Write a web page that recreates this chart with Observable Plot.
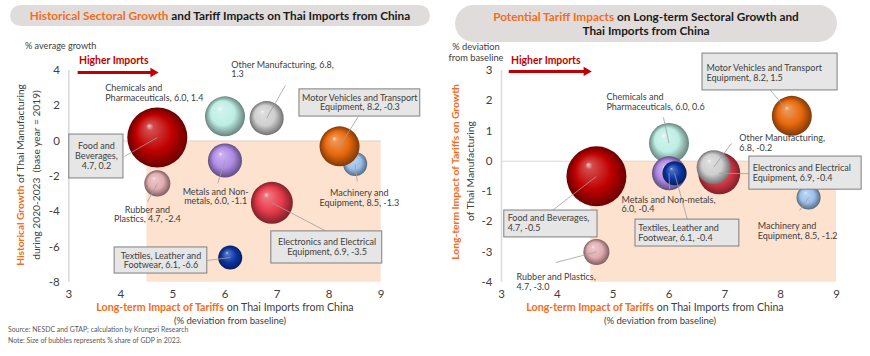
<!DOCTYPE html>
<html><head><meta charset="utf-8">
<script src="https://cdn.jsdelivr.net/npm/d3@7"></script>
<script src="https://cdn.jsdelivr.net/npm/@observablehq/plot@0.6"></script>
<style>
body{margin:0;width:870px;height:356px;position:relative;overflow:hidden;background:#fff;font-family:Lato,"Open Sans",sans-serif;color:#404040}
.abs{position:absolute;white-space:nowrap}
.c{transform:translate(-50%,-50%);text-align:center}
.pill{background:#e0dcdc;display:flex;align-items:center;justify-content:center;text-align:center;font-weight:bold;font-size:11.8px;color:#1a1a1a;line-height:14px}
.or{color:#f26c1b;font-weight:bold}
.hi{color:#c00000;font-weight:bold;font-size:10.4px}
</style></head>
<body>
<svg width="0" height="0" style="position:absolute"><defs id="defs"></defs></svg>
<div id="left" class="abs" style="left:0;top:0"></div>
<div id="right" class="abs" style="left:440px;top:0"></div>

<div class="abs pill" style="left:10px;top:5px;width:420px;height:21px;border-radius:11px"><span><span class="or">Historical Sectoral Growth</span> and Tariff Impacts on Thai Imports from China</span></div>
<div class="abs pill" style="left:455px;top:5px;width:382px;height:37px;border-radius:19px"><span><span class="or">Potential Tariff Impacts</span> on Long-term Sectoral Growth and<br>Thai Imports from China</span></div>

<div class="abs" style="left:25px;top:40px;font-size:9.1px">% average growth</div>
<div class="abs c" style="left:476px;top:52px;font-size:9.3px;line-height:11px">% deviation<br>from baseline</div>

<div class="abs hi" style="left:79px;top:54px">Higher Imports</div>
<div class="abs hi" style="left:511px;top:54px">Higher Imports</div>

<div class="abs c" style="left:20px;top:175px;transform:translate(-50%,-50%) rotate(-90deg);font-size:10.2px"><span class="or">Historical Growth</span> of Thai Manufacturing</div>
<div class="abs c" style="left:36px;top:175px;transform:translate(-50%,-50%) rotate(-90deg);font-size:10.2px">during 2020-2023&nbsp; (base year = 2019)</div>
<div class="abs c" style="left:455px;top:172px;transform:translate(-50%,-50%) rotate(-90deg);font-size:10.3px"><span class="or">Long-term Impact of Tariffs on Growth</span></div>
<div class="abs c" style="left:470px;top:171px;transform:translate(-50%,-50%) rotate(-90deg);font-size:10.3px">of Thai Manufacturing</div>

<div class="abs c" style="left:225px;top:307px;font-size:10.6px"><span class="or">Long-term Impact of Tariffs</span> on Thai Imports from China</div>
<div class="abs c" style="left:230px;top:320px;font-size:9.5px">(% deviation from baseline)</div>
<div class="abs c" style="left:655px;top:307px;font-size:10.6px"><span class="or">Long-term Impact of Tariffs</span> on Thai Imports from China</div>
<div class="abs c" style="left:660px;top:320px;font-size:9.5px">(% deviation from baseline)</div>

<div class="abs" style="left:8px;top:325px;font-size:6.9px;color:#595959">Source: NESDC and GTAP; calculation by Krungsri Research</div>
<div class="abs" style="left:8px;top:336px;font-size:6.9px;color:#595959">Note: Size of bubbles represents % share of GDP in 2023.</div>

<script>
// ---- data ----
const sectors = ["Food and Beverages","Rubber and Plastics","Chemicals and Pharmaceuticals","Metals and Non-metals","Textiles, Leather and Footwear","Electronics and Electrical Equipment","Other Manufacturing","Machinery and Equipment","Motor Vehicles and Transport Equipment"];
const importImpact = [4.7, 4.7, 6.0, 6.0, 6.1, 6.9, 6.8, 8.5, 8.2];
const historicalGrowth = [0.2, -2.4, 1.4, -1.1, -6.6, -3.5, 1.3, -1.3, -0.3];
const longTermGrowth = [-0.5, -3.0, 0.6, -0.4, -0.4, -0.4, -0.2, -1.2, 1.5];
const gdpShare = [9.0, 1.7, 4.0, 2.9, 1.45, 4.4, 2.9, 1.45, 4.0];
const sectorColors = ["#c00000","#e2acb0","#bdeee4","#b08ce6","#0a36a6","#e63a4a","#cfcfcf","#9cc0ea","#e8680c"];
const xTicks = [3,4,5,6,7,8,9];
const leftYTicks = [-8,-6,-4,-2,0,2,4];
const rightYTicks = [-4,-3,-2,-1,0,1,2,3];

const leftLabels = ["Food and\nBeverages,\n4.7, 0.2","Rubber and\nPlastics, 4.7, -2.4","Chemicals and\nPharmaceuticals, 6.0, 1.4","Metals and Non-\nmetals, 6.0, -1.1","Textiles, Leather and\nFootwear, 6.1, -6.6","Electronics and Electrical\nEquipment, 6.9, -3.5","Other Manufacturing, 6.8,\n1.3","Machinery and\nEquipment, 8.5, -1.3","Motor Vehicles and Transport\nEquipment, 8.2, -0.3"];
const rightLabels = ["Food and Beverages,\n4.7, -0.5","Rubber and Plastics,\n4.7, -3.0","Chemicals and\nPharmaceuticals, 6.0, 0.6","Metals and Non-metals,\n6.0, -0.4","Textiles, Leather and\nFootwear, 6.1, -0.4","Electronics and Electrical\nEquipment, 6.9, -0.4","Other Manufacturing,\n6.8, -0.2","Machinery and\nEquipment, 8.5, -1.2","Motor Vehicles and Transport\nEquipment, 8.2, 1.5"];

// ---- annotation placement (data units) ----
const leftAnn = [
  {i:0, lx:3.53, ly:-0.85, anchor:"middle", box:[3.01,4.05,0.37,-2.12], ex:4.07, ey:-0.87},
  {i:1, lx:4.51, ly:-4.16, anchor:"middle", ex:4.51, ey:-3.45},
  {i:2, lx:3.70, ly:2.73, anchor:"start"},
  {i:3, lx:5.82, ly:-3.14, anchor:"middle", ex:5.86, ey:-2.40},
  {i:4, lx:4.77, ly:-6.77, anchor:"middle", box:[3.88,5.66,-6.03,-7.51], ex:5.66, ey:-6.77},
  {i:5, lx:7.96, ly:-6.0, anchor:"middle", box:[6.89,9.02,-5.12,-6.94], ex:7.95, ey:-5.12},
  {i:6, lx:6.12, ly:4.06, anchor:"start", ex:7.16, ey:3.15},
  {i:7, lx:8.58, ly:-3.20, anchor:"middle", ex:8.54, ey:-2.29},
  {i:8, lx:8.59, ly:2.19, anchor:"middle", box:[7.43,9.75,2.93,1.39], ex:8.56, ey:1.39}
];
const rightAnn = [
  {i:0, lx:3.11, ly:-2.04, anchor:"start", box:[3.05,4.72,-1.63,-2.52], ex:3.91, ey:-1.63},
  {i:1, lx:3.27, ly:-3.99, anchor:"start", ex:3.97, ey:-3.35},
  {i:2, lx:4.88, ly:1.97, anchor:"start", ex:5.90, ey:1.45},
  {i:3, lx:5.15, ly:-1.43, anchor:"start", ex:6.01, ey:-0.92},
  {i:4, lx:5.45, ly:-2.38, anchor:"start", box:[5.40,7.26,-1.93,-2.82], ex:6.33, ey:-1.93},
  {i:5, lx:7.50, ly:-0.38, anchor:"start", box:[7.44,9.45,0.155,-0.94], ex:7.44, ey:-0.41},
  {i:6, lx:7.26, ly:0.60, anchor:"start", ex:7.12, ey:0.59},
  {i:7, lx:7.59, ly:-2.31, anchor:"start", ex:8.34, ey:-1.63},
  {i:8, lx:6.67, ly:2.93, anchor:"start", box:[6.60,9.02,3.56,2.34], ex:7.82, ey:2.34}
];

// ---- sphere gradients ----
const defs = d3.select("#defs");
sectorColors.forEach((c, i) => {
  const g = defs.append("radialGradient").attr("id", "g" + i)
    .attr("cx", 0.5).attr("cy", 0.5).attr("r", 0.5).attr("fx", 0.36).attr("fy", 0.3);
  const hl = d3.interpolateRgb(c, "#ffffff")(0.8);
  const mid = d3.interpolateRgb(c, "#ffffff")(0.3);
  const dark = d3.interpolateRgb(c, "#000000")(0.45);
  [[0, hl], [0.12, mid], [0.6, c], [1, dark]].forEach(([o, col]) =>
    g.append("stop").attr("offset", o).attr("stop-color", col));
});

function chart({yvals, labels, ann, yDomain, yTicks, width, height, ml, mr, mt, mb, shade, arrow}) {
  const rows = sectors.map((s, i) => ({s, x: importImpact[i], y: yvals[i], share: gdpShare[i], fill: `url(#g${i})`}));
  const boxes = ann.filter(d => d.box);
  const leads = ann.filter(d => d.ex !== undefined);
  const txt = a => Plot.text(ann.filter(d => d.anchor === a), {
    x: "lx", y: "ly", text: d => labels[d.i], textAnchor: a, lineAnchor: "middle",
    fontSize: 9, fill: "#404040", lineHeight: 1.08
  });
  return Plot.plot({
    width, height, marginLeft: ml, marginRight: mr, marginTop: mt, marginBottom: mb,
    style: {fontFamily: "Lato, sans-serif", fontSize: "11.5px", color: "#404040", overflow: "visible", background: "transparent"},
    x: {domain: [3, 9]},
    y: {domain: yDomain},
    r: {domain: [0, 9], range: [0, 30]},
    color: {type: "identity"},
    marks: [
      Plot.rect([shade], {x1: d => d[0], x2: d => d[1], y1: d => d[2], y2: d => d[3], fill: "#fde2cf"}),
      Plot.ruleY([0], {x1: 3, x2: 9, stroke: "#d9d9d9"}),
      Plot.ruleX([3], {y1: yDomain[0], y2: yDomain[1], stroke: "#d9d9d9", strokeWidth: 1.5}),
      Plot.axisX({ticks: xTicks, tickSize: 0, tickPadding: 8, label: null, tickFormat: d => String(d), fontSize: 11.5}),
      Plot.axisY({ticks: yTicks, tickSize: 0, tickPadding: 9, label: null, tickFormat: d => String(d), fontSize: 11.5}),
      Plot.dot(rows, {x: "x", y: "y", r: "share", fill: "fill", sort: null}),
      Plot.link(leads, {x1: d => importImpact[d.i], y1: d => yvals[d.i], x2: "ex", y2: "ey", stroke: "#a0a0a0", strokeWidth: 0.8}),
      Plot.rect(boxes, {x1: d => d.box[0], x2: d => d.box[1], y1: d => d.box[2], y2: d => d.box[3], fill: "#e6e6e6", stroke: "#7f7f7f", strokeWidth: 1}),
      txt("start"), txt("middle"),
      Plot.link([arrow], {x1: d => d[0], x2: d => d[1], y1: d => d[2], y2: d => d[2], stroke: "#c00000", strokeWidth: 3}),
      Plot.dot([arrow], {x: d => d[1], y: d => d[2], symbol: "triangle2", rotate: 90, r: 4.5, fill: "#c00000"})
    ]
  });
}

document.getElementById("left").append(chart({
  yvals: historicalGrowth, labels: leftLabels, ann: leftAnn,
  yDomain: [-8, 4], yTicks: leftYTicks, width: 440, height: 356,
  ml: 68.3, mr: 59.3, mt: 70, mb: 74.3,
  shade: [4.5, 9, 0, -8], arrow: [3.17, 4.62, 3.89]
}));
document.getElementById("right").append(chart({
  yvals: longTermGrowth, labels: rightLabels, ann: rightAnn,
  yDomain: [-4, 3], yTicks: rightYTicks, width: 430, height: 356,
  ml: 61, mr: 34, mt: 70, mb: 74.3,
  shade: [4.6, 9, 0, -4], arrow: [3.13, 4.52, 2.97]
}));
</script>
</body></html>
